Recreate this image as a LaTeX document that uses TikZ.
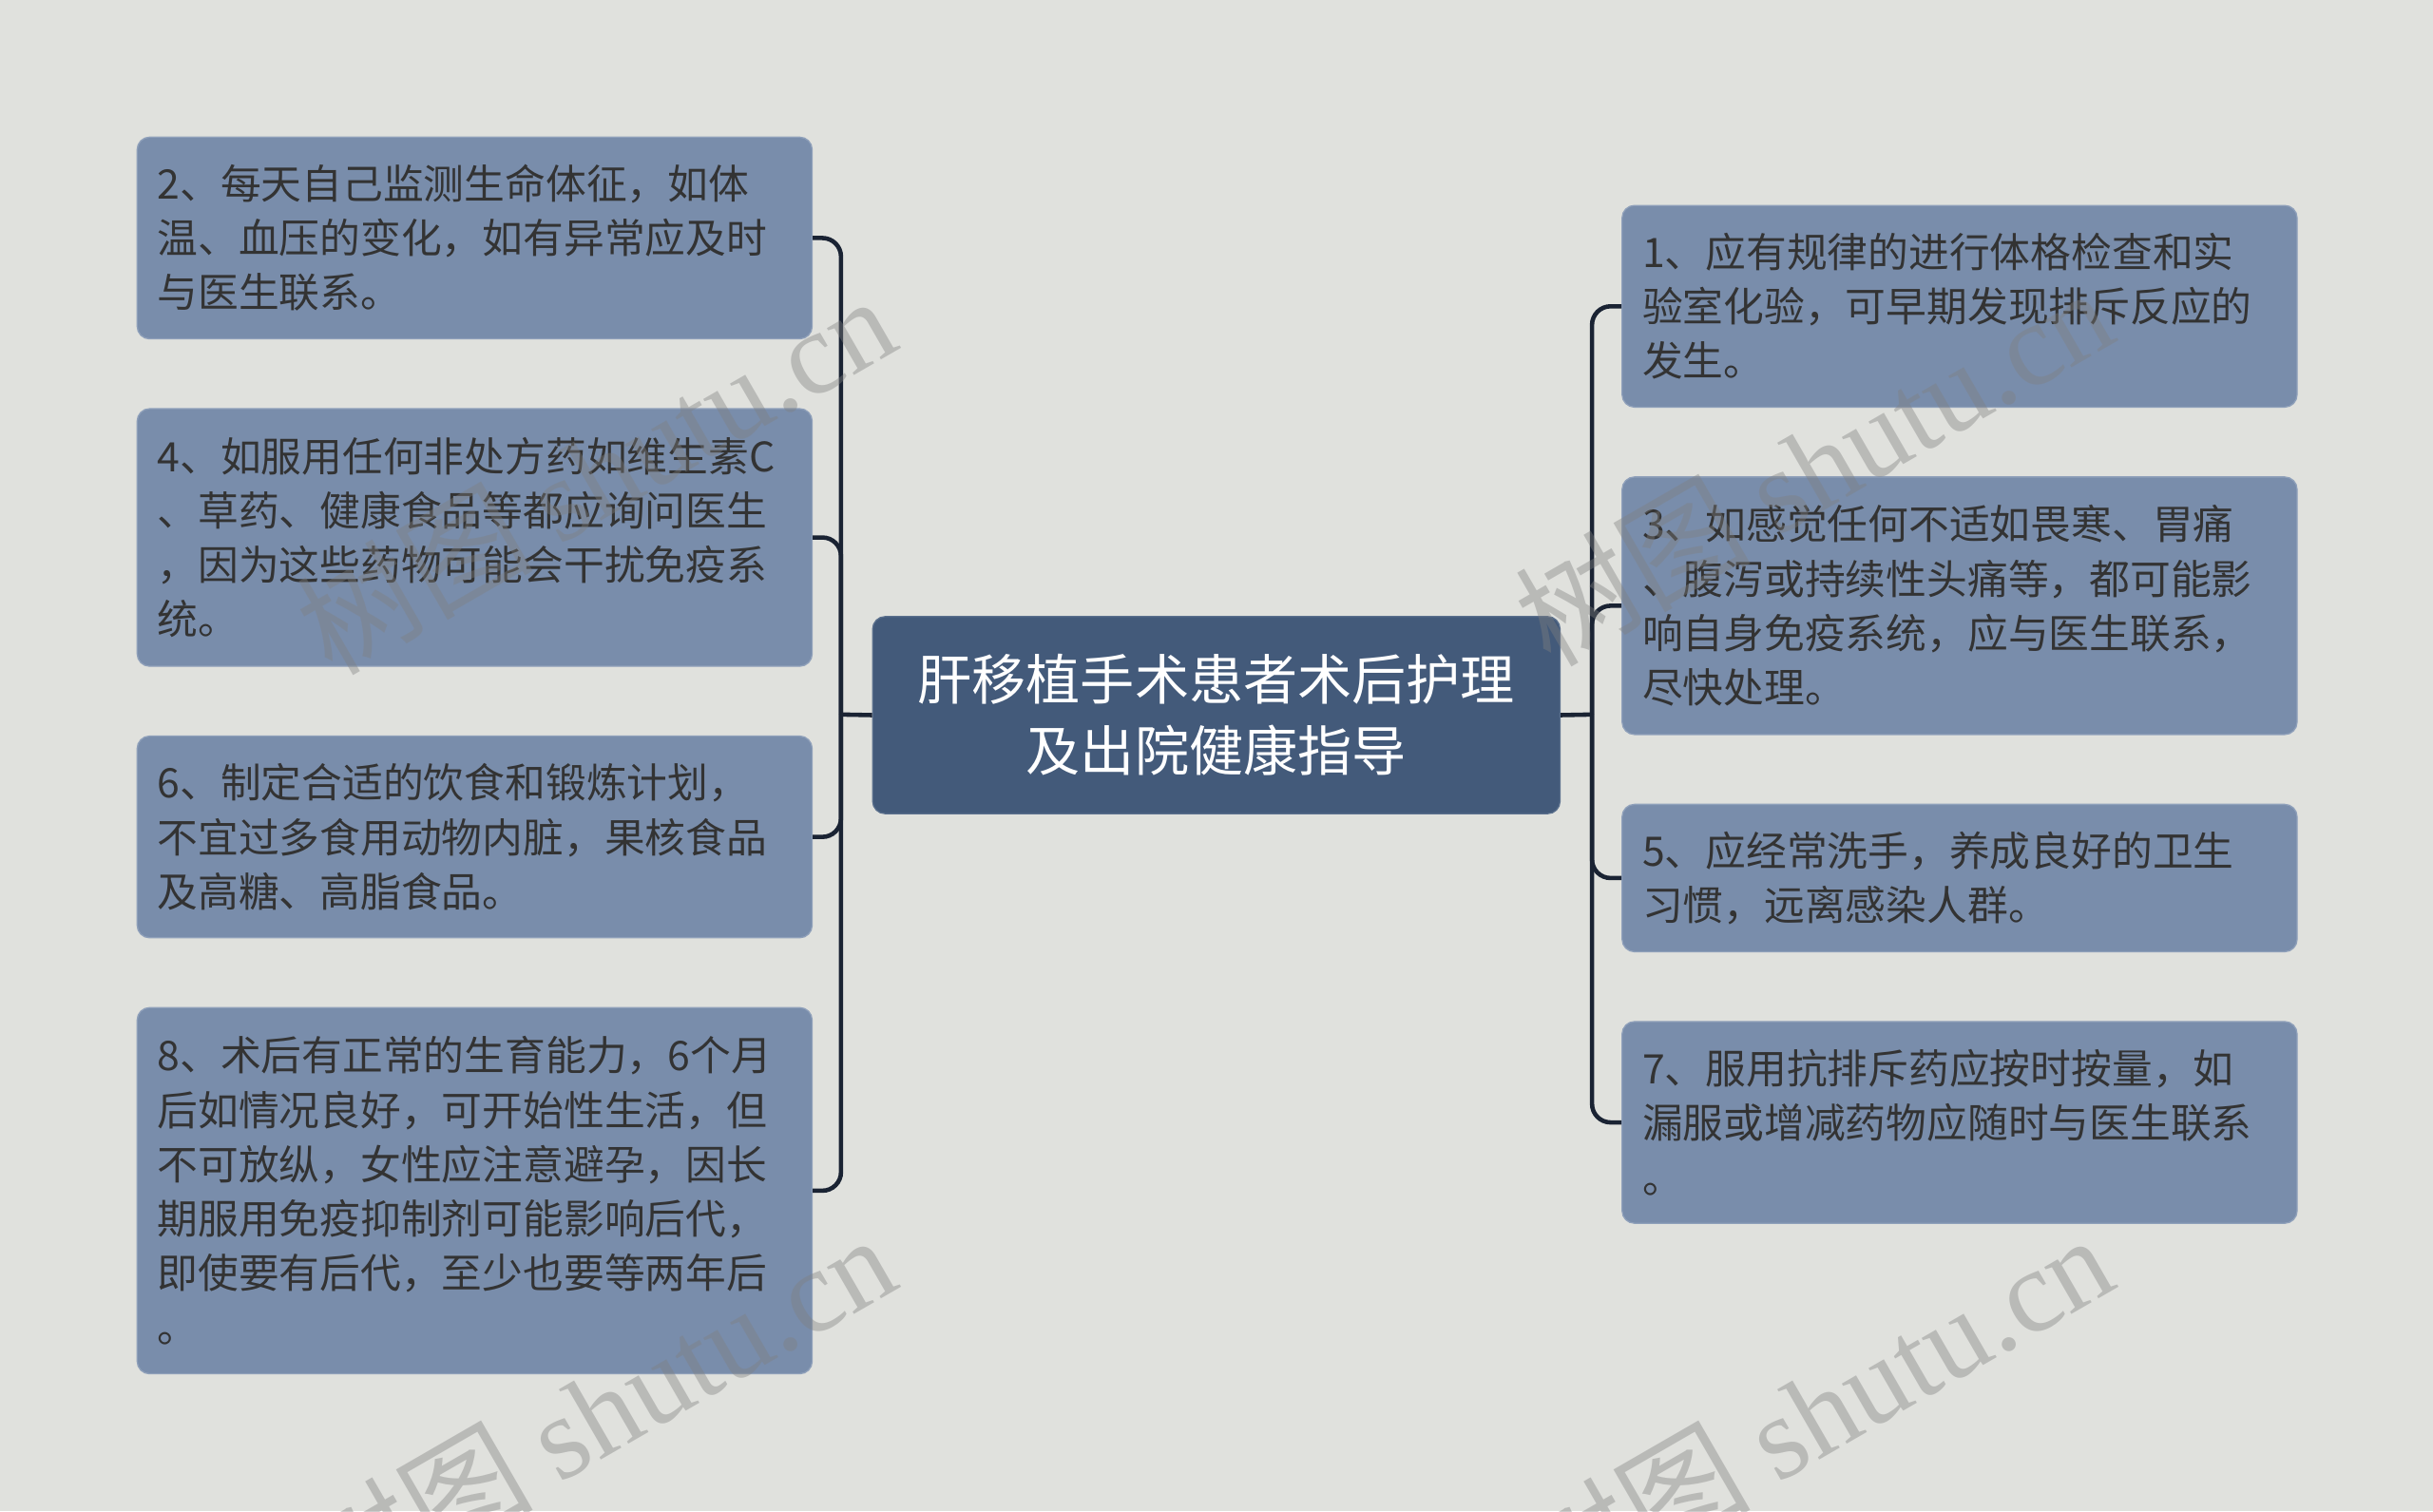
\documentclass[tikz,border=0pt]{standalone}
\usepackage{fontspec}
\setmainfont{Noto Sans CJK SC}
\newfontfamily\wmserif{Liberation Serif}
\newfontfamily\wmcjk{Noto Sans CJK SC}
\definecolor{bgc}{HTML}{E0E1DD}
\definecolor{boxc}{HTML}{798DAB}
\definecolor{boxline}{HTML}{8FA0BA}
\definecolor{rootc}{HTML}{435A7A}
\definecolor{rootline}{HTML}{5A6F8C}
\definecolor{linec}{HTML}{1A2333}
\definecolor{txtc}{HTML}{333333}
\tikzset{
  leaf/.style={rectangle, rounded corners=8pt, fill=boxc, draw=boxline, line width=0.8pt,
    minimum width=435pt, text width=409pt, inner xsep=13pt, inner ysep=0pt, align=left,
    anchor=north west, text=txtc, font=\fontsize{26.2}{35}\selectfont},
  root/.style={rectangle, rounded corners=8pt, fill=rootc, draw=rootline, line width=0.8pt,
    minimum width=443pt, minimum height=127pt, text width=420pt, align=center,
    anchor=north west, text=white, font=\fontsize{35}{46}\selectfont},
  conn/.style={draw=linec, line width=2.8pt, rounded corners=12pt},
  wmark/.style={text=black!50, opacity=0.4, rotate=30, anchor=base, inner sep=0pt}
}
\begin{document}
\begin{tikzpicture}[x=1pt, y=-1pt]
\useasboundingbox[fill=bgc] (0,0) rectangle (1568,974);

% central node
\node[root] (C) at (562,397) {肝移植手术患者术后护理\\及出院健康指导};

% left boxes
\node[leaf, minimum height=130pt] (L2) at (88,88) {2、每天自己监测生命体征，如体\\温、血压的变化，如有异常应及时\\与医生联系。};
\node[leaf, minimum height=166pt] (L4) at (88,263) {4、如服用任何非处方药如维生素C\\、草药、健康食品等都应询问医生\\，因为这些药物可能会干扰免疫系\\统。};
\node[leaf, minimum height=130pt] (L6) at (88,474) {6、制定合适的饮食和锻炼计划，\\不宜过多食用动物内脏，果核食品\\及高糖、高脂食品。};
\node[leaf, minimum height=236pt] (L8) at (88,649) {8、术后有正常的生育能力，6个月\\后如情况良好，可开始性生活，但\\不可放纵，女性应注意避孕，因长\\期服用免疫抑制剂可能影响后代，\\即使要有后代，至少也要等两年后\\。};

% right boxes
\node[leaf, minimum height=130pt] (R1) at (1045,132) {1、应有规律的进行体格检查和实\\验室化验，可早期发现排斥反应的\\发生。};
\node[leaf, minimum height=166pt] (R3) at (1045,307) {3、如感觉任何不适如畏寒、胃痛\\、腹泻或持续性头痛等，都可能影\\响自身免疫系统，应与医生联系，\\尽快处理。};
\node[leaf, minimum height=95pt] (R5) at (1045,518) {5、应经常洗手，养成良好的卫生\\习惯，远离感染人群。};
\node[leaf, minimum height=130pt] (R7) at (1045,658) {7、服用抗排斥药应按时按量，如\\漏服或增减药物应随时与医生联系\\。};

% bus coordinates
\coordinate (lbus) at (542,460.5);
\coordinate (rbus) at (1026,460.5);

% connectors
\draw[conn] (C.west) -- (lbus);
\draw[conn] (C.east) -- (rbus);
\foreach \n in {L2,L4,L6,L8} { \draw[conn] (\n.east) -| (lbus); }
\foreach \n in {R1,R3,R5,R7} { \draw[conn] (\n.west) -| (rbus); }

% watermarks
\foreach \p in {(398,330),(1183,325),(398,935),(1183,935)} {
  \node[wmark] at \p {\fontsize{76}{76}\selectfont\wmcjk 树图 \wmserif shutu.cn};
}
\end{tikzpicture}
\end{document}
